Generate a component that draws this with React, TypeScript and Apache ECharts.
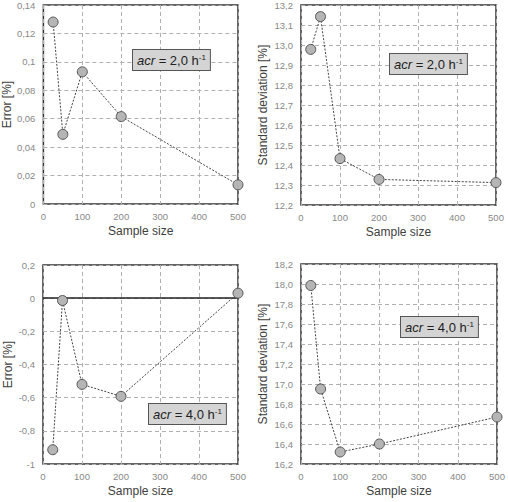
import React, { useEffect, useRef } from "react";
import * as echarts from "echarts";

const sampleSizes = [25, 50, 100, 200, 500];
const errorAcr2 = [0.128, 0.049, 0.093, 0.0615, 0.0135];
const stdAcr2 = [12.978, 13.142, 12.432, 12.328, 12.312];
const errorAcr4 = [-0.914, -0.014, -0.52, -0.592, 0.03];
const stdAcr4 = [17.985, 16.95, 16.32, 16.4, 16.67];

const xTicks = [0, 100, 200, 300, 400, 500];
const annotations = ["2,0", "2,0", "4,0", "4,0"];

const FONT = "'Liberation Sans', Arial, sans-serif";

function pairs(ys: number[]) {
  return sampleSizes.map((x, i) => [x, ys[i]]);
}

const comma = (v: number) => String(Math.round(v * 1000) / 1000).replace(".", ",");
const comma1 = (v: number) => v.toFixed(1).replace(".", ",");

export default function App() {
  const ref = useRef<HTMLDivElement>(null);
  useEffect(() => {
    if (!ref.current) return;
    const chart = echarts.init(ref.current, undefined, { renderer: "svg" });
    const grids = [
      { left: 43, top: 5, width: 195, height: 199 },
      { left: 301, top: 5, width: 195, height: 200 },
      { left: 43, top: 265, width: 195, height: 199 },
      { left: 301, top: 264, width: 196, height: 200 },
    ].map((g) => ({ ...g, show: true, borderColor: "#333", borderWidth: 1.5, backgroundColor: "#fff" }));

    const yCfg = [
      { min: 0, max: 0.14, interval: 0.02, name: "Error [%]", fmt: comma, gap: 29 },
      { min: 12.2, max: 13.2, interval: 0.1, name: "Standard deviation [%]", fmt: comma1, gap: 32 },
      { min: -1, max: 0.2, interval: 0.2, name: "Error [%]", fmt: comma, gap: 29 },
      { min: 16.2, max: 18.2, interval: 0.2, name: "Standard deviation [%]", fmt: comma1, gap: 32 },
    ];

    const split = { show: true, lineStyle: { color: "#b0b0b0", type: [4, 3] as any, width: 1 } };

    const xAxis = grids.map((_, i) => ({
      type: "value",
      gridIndex: i,
      min: xTicks[0],
      max: xTicks[xTicks.length - 1],
      interval: 100,
      name: "Sample size",
      nameLocation: "middle",
      nameGap: 21,
      nameTextStyle: { fontFamily: FONT, fontSize: 12, color: "#404040" },
      axisLine: { show: false },
      axisTick: { show: false },
      axisLabel: { fontFamily: FONT, fontSize: 9.5, color: "#888", margin: 7 },
      splitLine: split,
    }));

    const yAxis = yCfg.map((c, i) => ({
      type: "value",
      gridIndex: i,
      min: c.min,
      max: c.max,
      interval: c.interval,
      name: c.name,
      nameLocation: "middle",
      nameGap: c.gap,
      nameTextStyle: { fontFamily: FONT, fontSize: 12, color: "#404040" },
      axisLine: { show: false },
      axisTick: { show: false },
      axisLabel: { fontFamily: FONT, fontSize: 9.5, color: "#888", margin: 8, formatter: c.fmt },
      splitLine: split,
    }));

    const datasets = [errorAcr2, stdAcr2, errorAcr4, stdAcr4];
    const series: any[] = datasets.map((d, i) => ({
      type: "line",
      xAxisIndex: i,
      yAxisIndex: i,
      data: pairs(d),
      symbol: "circle",
      symbolSize: 10,
      itemStyle: { color: "#b5b5b5", borderColor: "#555", borderWidth: 1 },
      lineStyle: { color: "#444", width: 1, type: [2, 1.5] },
      z: 5,
      markLine:
        i === 2
          ? {
              silent: true,
              symbol: "none",
              label: { show: false },
              lineStyle: { color: "#222", type: "solid", width: 1.5 },
              data: [{ yAxis: 0 }],
              z: 3,
            }
          : undefined,
    }));

    const boxPos = [
      { x: 133, y: 50 },
      { x: 390, y: 54 },
      { x: 149, y: 404 },
      { x: 401, y: 317 },
    ];

    const graphic = boxPos.map((p, i) => ({
      type: "text",
      x: p.x,
      y: p.y,
      z: 100,
      style: {
        text: `{i|acr} = ${annotations[i]} h{s|-1}`,
        fontFamily: FONT,
        fontSize: 13,
        fill: "#222",
        backgroundColor: "#d4d4d4",
        borderColor: "#555",
        borderWidth: 1,
        padding: [3, 4, 2, 4],
        rich: {
          i: { fontStyle: "italic", fontFamily: FONT, fontSize: 13, fill: "#222" },
          s: { fontFamily: FONT, fontSize: 8, fill: "#222", padding: [0, 0, 7, 0] },
        },
      },
    }));

    chart.setOption({
      animation: false,
      backgroundColor: "#fff",
      grid: grids,
      xAxis,
      yAxis,
      series,
      graphic,
    });
    return () => chart.dispose();
  }, []);
  return (
    <div
      ref={ref}
      style={{ position: "fixed", left: 0, top: 0, width: 508, height: 502, background: "#fff" }}
    />
  );
}
